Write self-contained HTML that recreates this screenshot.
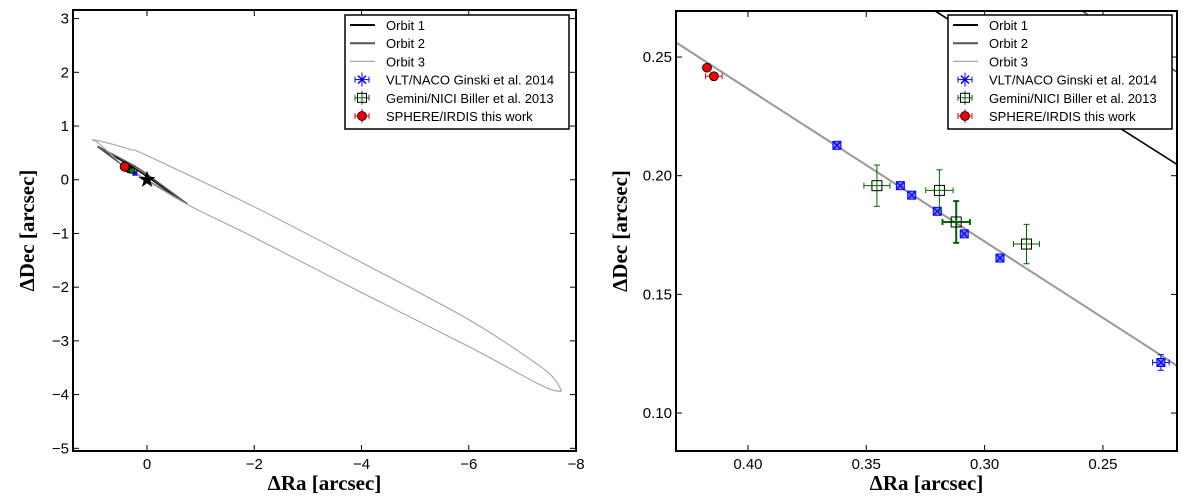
<!DOCTYPE html>
<html><head><meta charset="utf-8"><style>
html,body{margin:0;padding:0;background:#fff;overflow:hidden;width:1200px;height:499px;}
svg{display:block;}
svg text{font-family:"Liberation Sans",sans-serif;}
.lab{font-family:"Liberation Serif",serif;font-weight:bold;font-size:21px;}
</style></head><body>
<svg id="fig" width="1200" height="499" viewBox="0 0 1200 499" xmlns="http://www.w3.org/2000/svg"></svg>
<script>
// ---- data ----
const orbit1Upper = [[0.92,0.62],[0.3212,0.2696],[0.2186,0.2047],[0,0.06],[-0.75,-0.45]];
const orbit1Lower = [[0.92,0.62],[0.4303,0.2561],[0.2186,0.1199],[0,-0.01],[-0.75,-0.45]];
const orbit2Upper = [[0.92,0.62],[0.2591,0.2696],[0.2186,0.2436],[0,0.1],[-0.75,-0.45]];
const orbit2Lower = [[0.92,0.62],[0.4303,0.2561],[0.2186,0.1199],[0,-0.01],[-0.75,-0.45]];
const orbit3Upper = [[1.03,0.75],[0.75,0.69],[0.30,0.56],[0,0.45],[-1.99,-0.50],[-4.0,-1.54],[-6.01,-2.61],[-7.3,-3.45],[-7.62,-3.74],[-7.73,-3.94]];
const orbit3Lower = [[1.03,0.75],[0.88,0.66],[0.4303,0.2561],[0.2186,0.1199],[-0.77,-0.47],[-1.99,-1.07],[-4.0,-2.1],[-6.01,-3.11],[-7.2,-3.75],[-7.55,-3.91],[-7.73,-3.94]];
const nacoRa  = [0.3624,0.3356,0.3308,0.3200,0.3086,0.2935,0.2255];
const nacoDec = [0.2128,0.1958,0.1918,0.1850,0.1755,0.1653,0.1213];
const nacoXerr= [0.0012,0.0008,0.0010,0.0010,0.0012,0.0012,0.0035];
const nacoYerr= [0.0010,0.0008,0.0008,0.0008,0.0010,0.0010,0.0033];
const niciRa  = [0.3455,0.3191,0.3120,0.2823];
const niciDec = [0.1958,0.1938,0.1805,0.1712];
const niciXerr= [0.0055,0.0058,0.0058,0.0055];
const niciYerr= [0.0087,0.0087,0.0088,0.0083];
const irdisRa  = [0.4173,0.4144];
const irdisDec = [0.2455,0.2419];
const irdisXerr= [0.0005,0.0035];
const irdisYerr= [0.0005,0.0012];
const leftXTicks=[0,-2,-4,-6,-8], leftYTicks=[3,2,1,0,-1,-2,-3,-4,-5];
const rightXTicks=[0.40,0.35,0.30,0.25], rightYTicks=[0.25,0.20,0.15,0.10];
const legendLabels=["Orbit 1","Orbit 2","Orbit 3","VLT/NACO Ginski et al. 2014","Gemini/NICI Biller et al. 2013","SPHERE/IRDIS this work"];

const NS="http://www.w3.org/2000/svg";
const svg=document.getElementById('fig');
function el(tag,attrs,parent){const e=document.createElementNS(NS,tag);for(const k in attrs)e.setAttribute(k,attrs[k]);(parent||svg).appendChild(e);return e;}
function smoothPath(P){let d='M'+P[0][0].toFixed(2)+','+P[0][1].toFixed(2);
  for(let i=0;i<P.length-1;i++){const p0=P[Math.max(i-1,0)],p1=P[i],p2=P[i+1],p3=P[Math.min(i+2,P.length-1)];
    const c1=[p1[0]+(p2[0]-p0[0])/6,p1[1]+(p2[1]-p0[1])/6],c2=[p2[0]-(p3[0]-p1[0])/6,p2[1]-(p3[1]-p1[1])/6];
    d+=`C${c1[0].toFixed(2)},${c1[1].toFixed(2)} ${c2[0].toFixed(2)},${c2[1].toFixed(2)} ${p2[0].toFixed(2)},${p2[1].toFixed(2)}`;}
  return d;}
function straightPath(P){return P.map((p,i)=>(i?'L':'M')+p[0].toFixed(2)+','+p[1].toFixed(2)).join('');}

function panel(id,box,xlim,ylim,xt,yt,xfmt,yfmt,markerScale,legendBox,ylabX,clipId,smooth){
  const [L,T,R,B]=box;
  const sx=v=>L+(v-xlim[0])/(xlim[1]-xlim[0])*(R-L);
  const sy=v=>T+(ylim[1]-v)/(ylim[1]-ylim[0])*(B-T);
  const defs=el('defs',{});
  const cp=el('clipPath',{id:clipId},defs);
  el('rect',{x:L,y:T,width:R-L,height:B-T},cp);
  const g=el('g',{'clip-path':'url(#'+clipId+')'});
  
  
  const poly=(pts,col,w,name)=>{const sp=pts.map(q=>[sx(q[0]),sy(q[1])]);
    const p=el('path',{d:smooth?smoothPath(sp):straightPath(sp),fill:'none',stroke:col,'stroke-width':w,'stroke-linejoin':'round'},g);
    };
  poly(orbit1Upper,'#000',1.6,'orbit-1');poly(orbit1Lower,'#000',1.6,'orbit-1');
  poly(orbit2Upper,'#555',1.6,'orbit-2');poly(orbit2Lower,'#555',1.6,'orbit-2');
  poly(orbit3Upper,'#aaa',1.2,'orbit-3');poly(orbit3Lower,'#aaa',1.2,'orbit-3');
  const err=(x,y,xe,ye,col,w,cap)=>{
    el('line',{x1:sx(x-xe),x2:sx(x+xe),y1:sy(y),y2:sy(y),stroke:col,'stroke-width':w},g);
    el('line',{x1:sx(x),x2:sx(x),y1:sy(y-ye),y2:sy(y+ye),stroke:col,'stroke-width':w},g);
    [[sx(x-xe),sy(y)],[sx(x+xe),sy(y)]].forEach(p=>el('line',{x1:p[0],x2:p[0],y1:p[1]-cap,y2:p[1]+cap,stroke:col,'stroke-width':w},g));
    [[sx(x),sy(y-ye)],[sx(x),sy(y+ye)]].forEach(p=>el('line',{x1:p[0]-cap,x2:p[0]+cap,y1:p[1],y2:p[1],stroke:col,'stroke-width':w},g));
  };
  const s=markerScale;
  nacoRa.forEach((r,i)=>{err(r,nacoDec[i],nacoXerr[i],nacoYerr[i],'#00f',1,3*s);
    const x=sx(r),y=sy(nacoDec[i]);
    const m=el('rect',{x:x-4*s,y:y-4*s,width:8*s,height:8*s,fill:'#7a7aff',stroke:'#00f','stroke-width':1},g);
    
    el('path',{d:`M${x-4*s},${y-4*s}L${x+4*s},${y+4*s}M${x+4*s},${y-4*s}L${x-4*s},${y+4*s}`,stroke:'#00f','stroke-width':1.2},g);});
  niciRa.forEach((r,i)=>{err(r,niciDec[i],niciXerr[i],niciYerr[i],'#060',i==2?2:1,3*s);
    const m=el('rect',{x:sx(r)-5*s,y:sy(niciDec[i])-5*s,width:10*s,height:10*s,fill:s<1?'#080':'none',stroke:'#000','stroke-width':1},g);
    });
  irdisRa.forEach((r,i)=>{err(r,irdisDec[i],irdisXerr[i],irdisYerr[i],'#e00',1,3*s);
    const m=el('circle',{cx:sx(r),cy:sy(irdisDec[i]),r:4.5,fill:'#e00',stroke:'#000','stroke-width':0.8},g);
    });
  const cx=sx(0),cy=sy(0);let d='';
  for(let k=0;k<10;k++){const a=-Math.PI/2+k*Math.PI/5,rr=k%2?3.5:9;d+=(k?'L':'M')+(cx+rr*Math.cos(a)).toFixed(1)+','+(cy+rr*Math.sin(a)).toFixed(1);}
  const st=el('path',{d:d+'Z',fill:'#000'},g);
  
  const fr=el('rect',{x:L,y:T,width:R-L,height:B-T,fill:'none',stroke:'#000','stroke-width':2});
  
  xt.forEach(v=>{const x=sx(v);
    el('line',{x1:x,x2:x,y1:B,y2:B-6,stroke:'#000'});el('line',{x1:x,x2:x,y1:T,y2:T+6,stroke:'#000'});
    const t=el('text',{x:x,y:B+18,'text-anchor':'middle','font-size':15});t.textContent=xfmt(v);
    });
  yt.forEach(v=>{const y=sy(v);
    el('line',{x1:L,x2:L+6,y1:y,y2:y,stroke:'#000'});el('line',{x1:R,x2:R-6,y1:y,y2:y,stroke:'#000'});
    const t=el('text',{x:L-4,y:y+5,'text-anchor':'end','font-size':15});t.textContent=yfmt(v);
    });
  const xl=el('text',{x:(L+R)/2,y:490,'text-anchor':'middle',class:'lab'});xl.textContent='ΔRa [arcsec]';
  
  const yl=el('text',{x:0,y:0,'text-anchor':'middle',class:'lab',transform:`translate(${ylabX},${(T+B)/2}) rotate(-90)`});yl.textContent='ΔDec [arcsec]';
  
  const [lx,ly,lw,lh]=legendBox;
  const lg=el('g',{});
  
  el('rect',{x:lx,y:ly,width:lw,height:lh,fill:'#fff',stroke:'#000','stroke-width':1.5},lg);
  legendLabels.forEach((lab,i)=>{const y=ly+10+i*18.2;const x0=lx+5,x1=lx+30,xm=lx+17;
    if(i<3){el('line',{x1:x0,x2:x1,y1:y,y2:y,stroke:['#000','#555','#aaa'][i],'stroke-width':i==2?1.2:2},lg);}
    else{const c=['#00f','#060','#e00'][i-3];
      el('line',{x1:xm-7,x2:xm+7,y1:y,y2:y,stroke:c},lg);el('line',{x1:xm,x2:xm,y1:y-7,y2:y+7,stroke:c},lg);
      el('line',{x1:xm-7,x2:xm-7,y1:y-3,y2:y+3,stroke:c},lg);el('line',{x1:xm+7,x2:xm+7,y1:y-3,y2:y+3,stroke:c},lg);
      if(i==3)el('path',{d:`M${xm-4},${y-4}L${xm+4},${y+4}M${xm+4},${y-4}L${xm-4},${y+4}`,stroke:c,'stroke-width':1.5},lg);
      if(i==4)el('rect',{x:xm-4.5,y:y-4.5,width:9,height:9,fill:'none',stroke:'#000'},lg);
      if(i==5)el('circle',{cx:xm,cy:y,r:4.5,fill:'#e00',stroke:'#000','stroke-width':0.8},lg);}
    const t=el('text',{x:lx+41,y:y+5,'font-size':13},lg);t.textContent=lab;
    });
}
const minus=v=>(v<0?'\u2212':'')+Math.abs(v);
panel('left',[73,10,576,451],[1.38,-8.0],[-5.05,3.16],leftXTicks,leftYTicks,minus,minus,0.5,[345,15,224,114],34,'clipL',true);
panel('right',[676,11,1177,451],[0.4304,0.2187],[0.0840,0.2694],rightXTicks,rightYTicks,v=>v.toFixed(2),v=>v.toFixed(2),1,[948,15,224,114],627,'clipR',false);
</script>
</body></html>
